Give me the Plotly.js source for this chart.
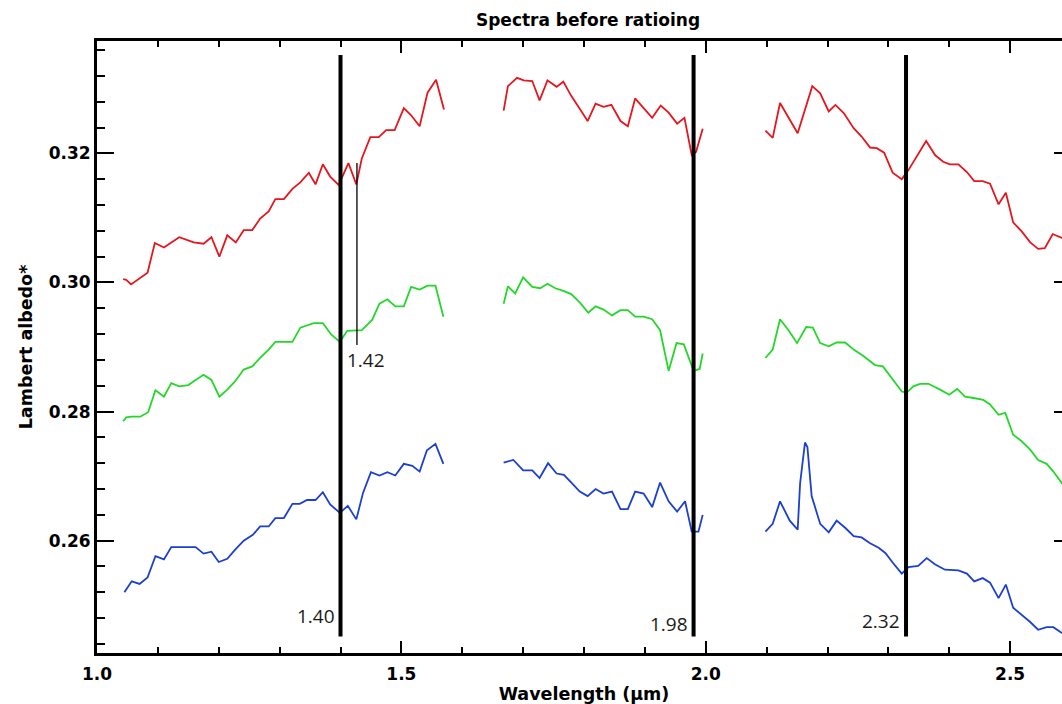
<!DOCTYPE html>
<html>
<head>
<meta charset="utf-8">
<script src="https://cdn.plot.ly/plotly-3.0.1.min.js"></script>
<style>
html,body{margin:0;padding:0;overflow:hidden;background:#fff;}
#chart{width:1071px;height:704px;}
</style>
</head>
<body>
<div id="chart"></div>
<script>
// ---- Data (wavelength in µm, Lambert albedo) ; null = gap between segments ----
const redX = [1.043,1.048,1.056,1.083,1.095,1.110,1.135,1.159,1.175,1.188,1.201,1.214,1.228,1.241,1.255,1.268,1.282,1.293,1.307,1.321,1.334,1.348,1.359,1.371,1.383,1.397,1.413,1.426,1.435,1.449,1.463,1.475,1.489,1.504,1.516,1.530,1.543,1.557,1.570,
  null,
  1.668,1.675,1.690,1.701,1.715,1.727,1.740,1.755,1.766,1.779,1.793,1.806,1.819,1.832,1.845,1.860,1.872,1.884,1.898,1.912,1.926,1.939,1.953,1.965,1.977,1.984,1.995,
  null,
  2.098,2.110,2.122,2.138,2.151,2.175,2.188,2.202,2.213,2.227,2.243,2.256,2.270,2.281,2.293,2.307,2.322,2.333,2.362,2.377,2.390,2.401,2.415,2.429,2.441,2.455,2.467,2.481,2.493,2.505,2.519,2.533,2.546,2.557,2.570,2.585,2.598];
const redY = [0.3005,0.3004,0.2997,0.3015,0.3061,0.3054,0.3070,0.3062,0.3060,0.3070,0.3040,0.3073,0.3062,0.3081,0.3081,0.3099,0.3110,0.3129,0.3129,0.3145,0.3155,0.3170,0.3152,0.3183,0.3164,0.3151,0.3185,0.3152,0.3192,0.3225,0.3225,0.3236,0.3236,0.3270,0.3259,0.3242,0.3294,0.3314,0.3268,
  null,
  0.3266,0.3304,0.3317,0.3313,0.3312,0.3282,0.3313,0.3303,0.3311,0.3289,0.3269,0.3250,0.3277,0.3272,0.3275,0.3250,0.3242,0.3285,0.3270,0.3255,0.3274,0.3263,0.3246,0.3255,0.3197,0.3202,0.3238,
  null,
  0.3235,0.3224,0.3278,0.3251,0.3231,0.3304,0.3293,0.3265,0.3275,0.3262,0.3239,0.3226,0.3209,0.3208,0.3201,0.3170,0.3160,0.3174,0.3219,0.3197,0.3187,0.3183,0.3183,0.3171,0.3157,0.3157,0.3153,0.3121,0.3139,0.3093,0.3079,0.3062,0.3052,0.3053,0.3075,0.3069,0.3066];

const greenX = [1.043,1.048,1.057,1.071,1.084,1.096,1.110,1.122,1.135,1.150,1.162,1.175,1.188,1.201,1.214,1.227,1.241,1.255,1.268,1.282,1.293,1.307,1.321,1.334,1.356,1.371,1.385,1.399,1.411,1.435,1.452,1.464,1.477,1.490,1.504,1.516,1.530,1.543,1.556,1.569,
  null,
  1.668,1.675,1.687,1.700,1.715,1.728,1.740,1.753,1.766,1.779,1.793,1.807,1.819,1.832,1.846,1.860,1.872,1.884,1.898,1.912,1.925,1.939,1.952,1.964,1.980,1.990,1.995,
  null,
  2.098,2.110,2.122,2.136,2.150,2.165,2.176,2.188,2.202,2.215,2.229,2.243,2.259,2.278,2.291,2.308,2.322,2.330,2.341,2.352,2.366,2.385,2.400,2.413,2.426,2.440,2.456,2.467,2.481,2.492,2.505,2.519,2.533,2.546,2.560,2.571,2.585,2.598];
const greenY = [0.2785,0.2791,0.2792,0.2792,0.2799,0.2833,0.2823,0.2844,0.2839,0.2841,0.2849,0.2857,0.2849,0.2823,0.2834,0.2847,0.2865,0.2870,0.2883,0.2896,0.2908,0.2908,0.2908,0.2930,0.2937,0.2937,0.2919,0.2908,0.2925,0.2926,0.2942,0.2967,0.2974,0.2963,0.2963,0.2993,0.2989,0.2995,0.2995,0.2947,
  null,
  0.2967,0.2994,0.2983,0.3008,0.2993,0.2991,0.2998,0.2991,0.2987,0.2982,0.2969,0.2953,0.2963,0.2958,0.2949,0.2957,0.2957,0.2947,0.2947,0.2943,0.2926,0.2863,0.2906,0.2904,0.2863,0.2866,0.2890,
  null,
  0.2883,0.2896,0.2943,0.2926,0.2906,0.2931,0.2930,0.2906,0.2901,0.2907,0.2907,0.2896,0.2886,0.2872,0.2870,0.2849,0.2831,0.2829,0.2839,0.2843,0.2843,0.2834,0.2826,0.2835,0.2823,0.2821,0.2818,0.2811,0.2795,0.2798,0.2764,0.2754,0.2741,0.2725,0.2719,0.2707,0.2689,0.2675];

const blueX = [1.045,1.057,1.070,1.083,1.096,1.110,1.122,1.137,1.162,1.175,1.188,1.200,1.214,1.227,1.241,1.256,1.268,1.282,1.293,1.307,1.321,1.333,1.345,1.359,1.371,1.383,1.399,1.412,1.426,1.437,1.450,1.464,1.477,1.490,1.504,1.518,1.530,1.542,1.556,1.569,
  null,
  1.668,1.684,1.700,1.715,1.727,1.741,1.755,1.767,1.780,1.793,1.806,1.819,1.832,1.846,1.860,1.872,1.884,1.898,1.912,1.925,1.939,1.953,1.966,1.977,1.988,1.995,
  null,
  2.098,2.110,2.122,2.138,2.151,2.155,2.163,2.167,2.174,2.188,2.202,2.215,2.229,2.243,2.256,2.270,2.284,2.295,2.308,2.322,2.333,2.349,2.363,2.377,2.393,2.415,2.429,2.441,2.455,2.467,2.481,2.493,2.505,2.519,2.533,2.546,2.560,2.571,2.585,2.598];
const blueY = [0.2520,0.2537,0.2533,0.2543,0.2576,0.2571,0.2590,0.2590,0.2590,0.2580,0.2583,0.2567,0.2572,0.2586,0.2600,0.2609,0.2622,0.2622,0.2635,0.2635,0.2657,0.2657,0.2663,0.2663,0.2675,0.2656,0.2643,0.2654,0.2633,0.2674,0.2706,0.2701,0.2706,0.2701,0.2719,0.2716,0.2707,0.2740,0.2750,0.2719,
  null,
  0.2721,0.2725,0.2709,0.2709,0.2697,0.2720,0.2704,0.2702,0.2689,0.2676,0.2669,0.2680,0.2673,0.2676,0.2649,0.2649,0.2676,0.2673,0.2652,0.2690,0.2661,0.2645,0.2661,0.2614,0.2614,0.2640,
  null,
  0.2614,0.2626,0.2661,0.2631,0.2617,0.2689,0.2752,0.2745,0.2669,0.2626,0.2613,0.2631,0.2620,0.2607,0.2605,0.2596,0.2589,0.2581,0.2565,0.2549,0.2559,0.2561,0.2573,0.2563,0.2555,0.2554,0.2549,0.2537,0.2542,0.2535,0.2511,0.2532,0.2496,0.2485,0.2474,0.2462,0.2466,0.2466,0.2457,0.2452];

// band markers
const bandLineX = [1.40, 1.98, 2.329];
const bandLineLabels = ['1.40', '1.98', '2.32'];
const thinLineX = [1.427];
const thinLineLabels = ['1.42'];
const bandLineYRange = [0.24514, 0.33522];
const thinLineYRange = [0.2903, 0.3185];
const bandLabelY = [0.24831, 0.24707, 0.24754];
const thinLabelY = [0.28797];

const xTickVals = [1.0, 1.5, 2.0, 2.5];
const xTickText = ['1.0', '1.5', '2.0', '2.5'];
const yTickVals = [0.26, 0.28, 0.30, 0.32];
const yTickText = ['0.26', '0.28', '0.30', '0.32'];

// ---- Traces ----
const traces = [
  {x: redX, y: redY, color: '#e4161e'},
  {x: greenX, y: greenY, color: '#25d72b'},
  {x: blueX, y: blueY, color: '#1c3fcf'}
].map(s => ({
  type: 'scatter', mode: 'lines', x: s.x, y: s.y, connectgaps: false,
  line: {color: s.color, width: 1.8}, hoverinfo: 'skip', showlegend: false
}));

const shapes = [];
bandLineX.forEach(x => shapes.push({type: 'line', xref: 'x', yref: 'y', x0: x, x1: x,
  y0: bandLineYRange[0], y1: bandLineYRange[1], line: {color: '#000', width: 4}}));
thinLineX.forEach(x => shapes.push({type: 'line', xref: 'x', yref: 'y', x0: x, x1: x,
  y0: thinLineYRange[0], y1: thinLineYRange[1], line: {color: '#000', width: 1.3}}));

const labelFont = {family: 'Open Sans, Noto Sans, sans-serif', size: 19, color: '#1a1a1a'};
const annotations = [];
bandLineX.forEach((x, i) => annotations.push({xref: 'x', yref: 'y', x: x, y: bandLabelY[i],
  text: bandLineLabels[i], showarrow: false, xanchor: 'right', yanchor: 'middle', xshift: -4, font: labelFont}));
thinLineX.forEach((x, i) => annotations.push({xref: 'x', yref: 'y', x: x, y: thinLabelY[i],
  text: thinLineLabels[i], showarrow: false, xanchor: 'left', yanchor: 'middle', xshift: -12, font: labelFont}));

const fam = 'DejaVu Sans, Verdana, sans-serif';
const tickFont = {family: fam, size: 17, color: '#000'};
const titleFont = {family: fam, size: 17.5, color: '#000'};

const layout = {
  width: 1071, height: 704,
  margin: {l: 96.5, r: 0, t: 41, b: 51, pad: 0},
  paper_bgcolor: '#fff', plot_bgcolor: '#fff',
  font: tickFont,
  title: {text: '<b>Spectra before ratioing</b>', font: {family: fam, size: 17, color: '#000'},
    xref: 'container', x: 588 / 1071, xanchor: 'center',
    yref: 'container', y: 1 - 20 / 704, yanchor: 'middle'},
  xaxis: {
    range: [1.0, 2.6], showgrid: false, zeroline: false,
    showline: true, linecolor: '#000', linewidth: 3, mirror: 'allticks',
    ticks: 'inside', ticklen: 12, tickwidth: 2, tickcolor: '#000',
    ticklabelstandoff: 4,
    tickvals: xTickVals, ticktext: xTickText.map(t => '<b>' + t + '</b>'),
    tickfont: tickFont,
    minor: {ticks: 'inside', ticklen: 6, tickwidth: 2, tickcolor: '#000', dtick: 0.1, tick0: 1.0, showgrid: false},
    title: {text: '<b>Wavelength (μm)</b>', font: titleFont, standoff: 13}
  },
  yaxis: {
    range: [0.2426, 0.3374], showgrid: false, zeroline: false,
    showline: true, linecolor: '#000', linewidth: 3, mirror: 'allticks',
    ticks: 'inside', ticklen: 17, tickwidth: 2, tickcolor: '#000',
    tickvals: yTickVals, ticktext: yTickText.map(t => '<b>' + t + '</b>'),
    tickfont: tickFont,
    minor: {ticks: 'inside', ticklen: 8, tickwidth: 2, tickcolor: '#000', dtick: 0.004, tick0: 0.24, showgrid: false},
    title: {text: '<b>Lambert albedo*</b>', font: titleFont, standoff: 12}
  },
  shapes: shapes,
  annotations: annotations,
  showlegend: false
};

Plotly.newPlot('chart', traces, layout, {staticPlot: true, displayModeBar: false});
</script>
</body>
</html>
